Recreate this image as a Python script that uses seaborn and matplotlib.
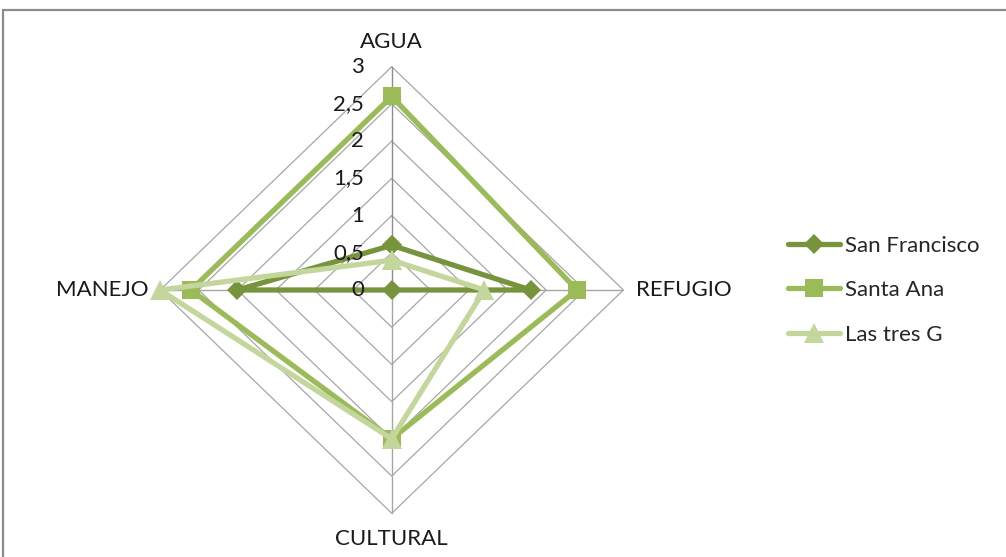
import numpy as np
import pandas as pd
import matplotlib
matplotlib.use("Agg")
import matplotlib.pyplot as plt
from matplotlib.patches import Rectangle
import seaborn as sns

# Categories, clockwise from the top
categories = ["AGUA", "REFUGIO", "CULTURAL", "MANEJO"]

# Scores per site
san_francisco = [0.6, 1.8, 0.0, 2.0]
santa_ana = [2.6, 2.4, 2.0, 2.6]
las_tres_g = [0.4, 1.2, 2.0, 3.0]

series_names = ["San Francisco", "Santa Ana", "Las tres G"]
series_values = [san_francisco, santa_ana, las_tres_g]

# Radial ticks
r_ticks = [0, 0.5, 1, 1.5, 2, 2.5, 3]
r_tick_labels = ["0", "0,5", "1", "1,5", "2", "2,5", "3"]
r_max = 3

colors = ["#77933C", "#9BBB59", "#C3D69B"]
markers = ["D", "s", "^"]
marker_sizes = [10, 13, 14]

sns.set_theme(style="white")
plt.rcParams["font.family"] = ["Lato", "DejaVu Sans"]

fig = plt.figure(figsize=(10.06, 5.57), dpi=100)
fig.patch.set_facecolor("white")
ax = fig.add_axes([0.1361, 0.0384, 0.5066, 0.8819])
ax.set_xlim(-3.3, 3.3)
ax.set_ylim(-3.3, 3.3)
ax.axis("off")

n = len(categories)
angles = np.arange(n) * 2 * np.pi / n  # 0 at top, clockwise


def to_xy(values):
    vals = np.asarray(values, dtype=float)
    x = vals * np.sin(angles)
    y = vals * np.cos(angles)
    return np.append(x, x[0]), np.append(y, y[0])


# Polygonal grid rings
grid_color = "#A6A6A6"
for r in r_ticks[1:]:
    gx, gy = to_xy([r] * n)
    ax.plot(gx, gy, color=grid_color, lw=0.9, zorder=1)

# Spokes
for a in angles:
    ax.plot([0, r_max * np.sin(a)], [0, r_max * np.cos(a)],
            color="#8C8C8C" if a == 0 else grid_color, lw=1.0, zorder=1)

# Data series
for name, vals, c, m, ms in zip(series_names, series_values, colors, markers, marker_sizes):
    px, py = to_xy(vals)
    df = pd.DataFrame({"x": px, "y": py})
    sns.lineplot(data=df, x="x", y="y", sort=False, estimator=None, ax=ax,
                 color=c, lw=3.8, marker=m, markersize=ms, markeredgewidth=0,
                 label=name, zorder=3)

txt_color = "#1a1a1a"
fs = 16

# Radial tick labels along the vertical spoke
for r, lab in zip(r_ticks, r_tick_labels):
    ax.text(-0.36, r, lab, ha="right", va="center", fontsize=fs, color=txt_color)

# Category labels
ax.text(0, r_max + 0.33, categories[0], ha="center", va="center", fontsize=fs, color=txt_color)
ax.text(r_max + 0.16, 0, categories[1], ha="left", va="center", fontsize=fs, color=txt_color)
ax.text(0, -(r_max + 0.34), categories[2], ha="center", va="center", fontsize=fs, color=txt_color)
ax.text(-(r_max + 0.15), 0, categories[3], ha="right", va="center", fontsize=fs, color=txt_color)

ax.legend(loc="center left", bbox_to_anchor=(0.7833, 0.479), bbox_transform=fig.transFigure,
          frameon=False, fontsize=16, handlelength=2.35, handletextpad=0.22,
          labelspacing=1.1, borderaxespad=0, borderpad=0)

# Outer chart frame
fig.patches.append(Rectangle((3 / 1006, -0.2), 1.2, (557 - 10) / 557 + 0.2,
                             transform=fig.transFigure, fill=False,
                             edgecolor="#8C8C8C", lw=1.6))

fig.savefig("out.png", dpi=100)
